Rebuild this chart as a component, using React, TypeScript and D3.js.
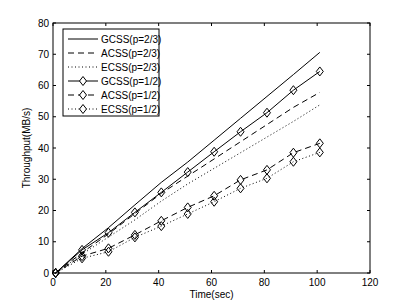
import * as d3 from "d3";

const times = [1, 11, 21, 31, 41, 51, 61, 71, 81, 91, 101];
const gcss23 = [0, 7.8, 14.5, 21.8, 29, 35.5, 42.5, 49.5, 56.5, 63.5, 70.6];
const acss23 = [0, 6.5, 12.5, 19, 25.5, 31, 36.5, 42, 47.5, 53, 57.8];
const ecss23 = [0, 6, 11.5, 17, 23, 28.5, 33.5, 38.5, 43.5, 48.5, 53.8];
const gcss12 = [0, 7.4, 12.9, 19.4, 25.8, 32.3, 38.8, 45.2, 51.3, 58.5, 64.5];
const acss12 = [0, 5.4, 7.9, 12.2, 16.7, 21, 24.7, 29.8, 33, 38.5, 41.5];
const ecss12 = [0, 4.7, 6.8, 11.4, 15, 18.9, 22.8, 27.1, 30.3, 35.6, 38.6];
const xTicks = [0, 20, 40, 60, 80, 100, 120];
const yTicks = [0, 10, 20, 30, 40, 50, 60, 70, 80];

const series = [
  { name: "GCSS(p=2/3)", values: gcss23, dash: "", marker: false },
  { name: "ACSS(p=2/3)", values: acss23, dash: "6,4", marker: false },
  { name: "ECSS(p=2/3)", values: ecss23, dash: "1,2.5", marker: false },
  { name: "GCSS(p=1/2)", values: gcss12, dash: "", marker: true },
  { name: "ACSS(p=1/2)", values: acss12, dash: "6,4", marker: true },
  { name: "ECSS(p=1/2)", values: ecss12, dash: "1,2.5", marker: true },
];

const W = 409, H = 308;
const left = 53, right = 370, top = 23, bottom = 273;
const font = "'Liberation Sans', Arial, Helvetica, sans-serif";

// MATLAB style diamond
const diamond = (x: number, y: number) =>
  `M${x},${y - 4.5}L${x + 3.5},${y}L${x},${y + 4.5}L${x - 3.5},${y}Z`;

export default function App() {
  const x = d3.scaleLinear().domain([0, 120]).range([left, right]);
  const y = d3.scaleLinear().domain([0, 80]).range([bottom, top]);

  const line = d3
    .line<number>()
    .x((_, i) => x(times[i]))
    .y((d) => y(d));

  const legX = 63, legY = 29, legW = 96, legH = 87, rowH = 14;

  return (
    <svg
      width={W}
      height={H}
      style={{ position: "absolute", left: 0, top: 0, background: "#fff" }}
      fontFamily={font}
    >
      {/* plot lines */}
      {series.map((s) => (
        <g key={s.name}>
          <path
            d={line(s.values) || ""}
            fill="none"
            stroke="#000"
            strokeWidth={1}
            strokeDasharray={s.dash}
          />
          {s.marker &&
            s.values.map((v, i) => (
              <path
                key={i}
                d={diamond(x(times[i]), y(v))}
                fill="none"
                stroke="#000"
                strokeWidth={1}
              />
            ))}
        </g>
      ))}

      {/* axes box */}
      <rect
        x={left}
        y={top}
        width={right - left}
        height={bottom - top}
        fill="none"
        stroke="#000"
        strokeWidth={1}
      />
      {xTicks.map((t) => (
        <g key={"x" + t}>
          <line x1={x(t)} x2={x(t)} y1={bottom} y2={bottom - 3} stroke="#000" />
          <line x1={x(t)} x2={x(t)} y1={top} y2={top + 3} stroke="#000" />
          <text
            x={x(t)}
            y={bottom + 13}
            fontSize={10}
            textAnchor="middle"
          >
            {t}
          </text>
        </g>
      ))}
      {yTicks.map((t) => (
        <g key={"y" + t}>
          <line x1={left} x2={left + 3} y1={y(t)} y2={y(t)} stroke="#000" />
          <line x1={right} x2={right - 3} y1={y(t)} y2={y(t)} stroke="#000" />
          <text
            x={left - 4}
            y={y(t) + 3.5}
            fontSize={10}
            textAnchor="end"
          >
            {t}
          </text>
        </g>
      ))}
      <text
        x={(left + right) / 2}
        y={bottom + 25}
        fontSize={10}
        textAnchor="middle"
      >
        Time(sec)
      </text>
      <text
        transform={`translate(${30},${(top + bottom) / 2}) rotate(-90)`}
        fontSize={10}
        textAnchor="middle"
      >
        Throughput(MB/s)
      </text>

      {/* legend */}
      <rect
        x={legX}
        y={legY}
        width={legW}
        height={legH}
        fill="#fff"
        stroke="#000"
        strokeWidth={1}
      />
      {series.map((s, i) => {
        const ry = legY + 10 + i * rowH;
        return (
          <g key={"leg" + s.name}>
            <line
              x1={legX + 5}
              x2={legX + 35}
              y1={ry}
              y2={ry}
              stroke="#000"
              strokeDasharray={s.dash}
            />
            {s.marker && (
              <path
                d={diamond(legX + 20, ry)}
                fill="#fff"
                stroke="#000"
                strokeWidth={1}
              />
            )}
            <text x={legX + 38} y={ry + 3.5} fontSize={10}>
              {s.name}
            </text>
          </g>
        );
      })}
    </svg>
  );
}
